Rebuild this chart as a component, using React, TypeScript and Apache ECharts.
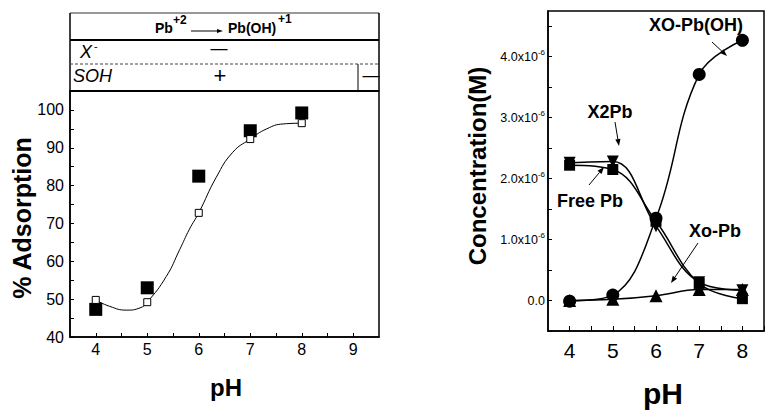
import React, { useEffect, useRef } from "react";
import * as echarts from "echarts";

// ---------- Left panel: % Adsorption vs pH ----------
const phPoints = [4, 5, 6, 7, 8];
const adsorptionMeasured = [47.3, 53, 82.5, 94.5, 99.2];
const adsorptionModel = [49.8, 49.2, 72.8, 92.3, 96.5];
const fitPh = [4, 4.27, 4.6, 4.86, 5, 5.37, 5.63, 5.82, 6, 6.34, 6.66, 7, 7.32, 7.64, 8];
const fitAdsorption = [49.8, 48.1, 47.1, 47.7, 49.2, 56.0, 63.1, 68.5, 72.8, 82.2, 88.8, 92.3, 95.0, 96.3, 96.5];

// ---------- Right panel: speciation (M) vs pH ----------
const xoPbOH = [-0.01e-6, 0.09e-6, 1.35e-6, 3.71e-6, 4.27e-6];
const x2Pb = [2.26e-6, 2.28e-6, 1.22e-6, 0.3e-6, 0.17e-6];
const freePb = [2.22e-6, 2.15e-6, 1.3e-6, 0.28e-6, 0.03e-6];
const xoPb = [0.0, 0.02e-6, 0.08e-6, 0.18e-6, 0.18e-6];

const FONT = '"Liberation Sans", Arial, Helvetica, sans-serif';

function pairs(xs: number[], ys: number[]) {
  return xs.map((x, i) => [x, ys[i]]);
}

function arrow(x1: number, y1: number, x2: number, y2: number, h = 7, w = 2.6) {
  const a = Math.atan2(y2 - y1, x2 - x1);
  const bx = x2 - h * Math.cos(a);
  const by = y2 - h * Math.sin(a);
  return [
    {
      type: "line",
      shape: { x1, y1, x2: bx, y2: by },
      style: { stroke: "#000", lineWidth: 1 },
    },
    {
      type: "polygon",
      shape: {
        points: [
          [x2, y2],
          [bx + w * Math.sin(a), by - w * Math.cos(a)],
          [bx - w * Math.sin(a), by + w * Math.cos(a)],
        ],
      },
      style: { fill: "#000" },
    },
  ];
}

function txt(text: string, x: number, y: number, size: number, extra: any = {}, rotation = 0) {
  return {
    type: "text",
    x,
    y,
    rotation,
    style: {
      text,
      fontSize: size,
      fontFamily: FONT,
      fill: "#000",
      textAlign: "center",
      textVerticalAlign: "middle",
      ...extra,
    },
  };
}

function hline(x1: number, x2: number, y: number, lw: number, extra: any = {}) {
  return {
    type: "line",
    shape: { x1, y1: y, x2, y2: y },
    style: { stroke: "#000", lineWidth: lw, ...extra },
  };
}
function vline(x: number, y1: number, y2: number, lw: number) {
  return {
    type: "line",
    shape: { x1: x, y1, x2: x, y2 },
    style: { stroke: "#000", lineWidth: lw },
  };
}

const isInt = (v: number) => Math.abs(v - Math.round(v)) < 1e-9;

export default function App() {
  const ref = useRef<HTMLDivElement>(null);
  useEffect(() => {
    if (!ref.current) return;
    const chart = echarts.init(ref.current, undefined, { renderer: "svg" });

    const tickStyle = { lineStyle: { color: "#000", width: 1 } };
    const axisLine = { show: true, onZero: false, lineStyle: { color: "#000", width: 1.5 } };
    const lineCommon = {
      xAxisIndex: 1, yAxisIndex: 1, smooth: 0.4, showSymbol: true,
      itemStyle: { color: "#000", opacity: 1 }, lineStyle: { color: "#000", width: 1.5 },
    };

    const option: any = {
      animation: false,
      backgroundColor: "#fff",
      grid: [
        { left: 70, top: 91, width: 309, height: 246, show: true, borderColor: "#000", borderWidth: 1.5, backgroundColor: "transparent" },
        { left: 548, top: 11, width: 230, height: 320, show: true, borderColor: "#000", borderWidth: 1.5, backgroundColor: "transparent" },
      ],
      xAxis: [
        {
          type: "value", gridIndex: 0, min: 3.5, max: 9.5, interval: 0.5,
          axisLine, splitLine: { show: false },
          axisTick: { show: true, inside: true, length: 4, ...tickStyle },
          axisLabel: {
            show: true, margin: 4, fontSize: 16, color: "#000", fontFamily: FONT,
            formatter: (v: number) => (isInt(v) ? String(Math.round(v)) : ""),
            showMinLabel: false, showMaxLabel: false,
          },
        },
        {
          type: "value", gridIndex: 1, min: 3.5, max: 8.5, interval: 0.5,
          axisLine, splitLine: { show: false },
          axisTick: { show: true, inside: true, length: 5, ...tickStyle },
          axisLabel: {
            show: true, margin: 9, fontSize: 21, color: "#000", fontFamily: FONT,
            formatter: (v: number) => (isInt(v) ? String(Math.round(v)) : ""),
            showMinLabel: false,
          },
        },
      ],
      yAxis: [
        {
          type: "value", gridIndex: 0, min: 40, max: 105, interval: 5,
          axisLine, splitLine: { show: false },
          axisTick: { show: true, inside: true, length: 4, ...tickStyle },
          axisLabel: {
            show: true, margin: 6, fontSize: 16, color: "#000", fontFamily: FONT,
            formatter: (v: number) => (Math.round(v) % 10 === 0 ? String(Math.round(v)) : ""),
            showMaxLabel: false,
          },
        },
        {
          type: "value", gridIndex: 1, min: -0.5e-6, max: 4.75e-6, interval: 0.5e-6,
          axisLine, splitLine: { show: false },
          axisTick: { show: true, inside: true, length: 4, ...tickStyle },
          axisLabel: {
            show: true, margin: 3, color: "#000", fontFamily: FONT, fontSize: 12.5,
            showMaxLabel: false,
            formatter: (v: number) => {
              const n = Math.round(v / 0.5e-6) / 2;
              if (!isInt(n) || n < 0) return "";
              if (n === 0) return "{b|0.0}";
              return `{b|${n}.0x10}{s|-6}`;
            },
            rich: {
              b: { fontSize: 12.5, lineHeight: 16, fontFamily: FONT, color: "#000" },
              s: { fontSize: 8, lineHeight: 8, verticalAlign: "top", fontFamily: FONT, color: "#000" },
            },
          },
        },
      ],
      series: [
        {
          type: "line", xAxisIndex: 0, yAxisIndex: 0, data: pairs(fitPh, fitAdsorption),
          smooth: 0.5, showSymbol: false, symbol: "none",
          lineStyle: { color: "#000", width: 1 }, z: 1,
        },
        {
          type: "scatter", xAxisIndex: 0, yAxisIndex: 0, data: pairs(phPoints, adsorptionMeasured),
          symbol: "rect", symbolSize: 13, itemStyle: { color: "#000", opacity: 1 }, z: 2,
        },
        {
          type: "scatter", xAxisIndex: 0, yAxisIndex: 0, data: pairs(phPoints, adsorptionModel),
          symbol: "rect", symbolSize: 7, itemStyle: { color: "#fff", borderColor: "#000", borderWidth: 1, opacity: 1 }, z: 3,
        },
        { ...lineCommon, name: "XO-Pb(OH)", type: "line", data: pairs(phPoints, xoPbOH), symbol: "circle", symbolSize: 13 },
        { ...lineCommon, name: "X2Pb", type: "line", data: pairs(phPoints, x2Pb), symbol: "triangle", symbolRotate: 180, symbolSize: 12 },
        { ...lineCommon, name: "Free Pb", type: "line", data: pairs(phPoints, freePb), symbol: "rect", symbolSize: 11 },
        { ...lineCommon, name: "Xo-Pb", type: "line", data: pairs(phPoints, xoPb), symbol: "triangle", symbolSize: 13 },
      ],
      graphic: [
        // header box of left panel
        hline(70, 379, 13, 1, { stroke: "#333" }),
        vline(70, 13, 91, 1.5),
        vline(379, 13, 91, 1.5),
        hline(70, 379, 40, 2),
        hline(70, 379, 64, 1, { lineDash: [3, 2], stroke: "#444" }),
        hline(70, 379, 91, 2),
        vline(358, 64, 91, 1),
        txt("Pb", 155, 28, 14, { fontWeight: "bold", textAlign: "left" }),
        txt("+2", 173, 20, 12, { fontWeight: "bold", textAlign: "left" }),
        ...arrow(191, 31, 223, 31, 6, 2),
        txt("Pb(OH)", 228, 28, 14, { fontWeight: "bold", textAlign: "left" }),
        txt("+1", 278, 19, 12, { fontWeight: "bold", textAlign: "left" }),
        txt("X", 80, 52, 18, { fontStyle: "italic", textAlign: "left" }),
        txt("-", 94, 46, 11, { textAlign: "left" }),
        txt("—", 219, 48, 17),
        txt("SOH", 73, 76, 18, { fontStyle: "italic", textAlign: "left" }),
        txt("+", 220, 75, 22),
        txt("—", 371, 75, 17),
        // axis titles
        txt("% Adsorption", 22, 218, 25, { fontWeight: "bold" }, Math.PI / 2),
        txt("pH", 226, 387, 24, { fontWeight: "bold" }),
        txt("Concentration(M)", 477, 166, 24, { fontWeight: "bold" }, Math.PI / 2),
        txt("pH", 663, 393, 30, { fontWeight: "bold" }),
        // right annotations
        txt("XO-Pb(OH)", 696, 25, 18, { fontWeight: "bold" }),
        ...arrow(712, 42, 727, 56),
        txt("X2Pb", 610, 112, 18, { fontWeight: "bold" }),
        ...arrow(615, 122, 619, 146),
        txt("Free Pb", 590, 201, 18, { fontWeight: "bold" }),
        ...arrow(589, 185, 604, 167),
        txt("Xo-Pb", 715, 231, 18, { fontWeight: "bold" }),
        ...arrow(698, 243, 671, 283),
      ],
    };

    chart.setOption(option);
    return () => chart.dispose();
  }, []);

  return (
    <div
      ref={ref}
      style={{ position: "fixed", left: 0, top: 0, width: 767, height: 410, background: "#fff" }}
    />
  );
}
